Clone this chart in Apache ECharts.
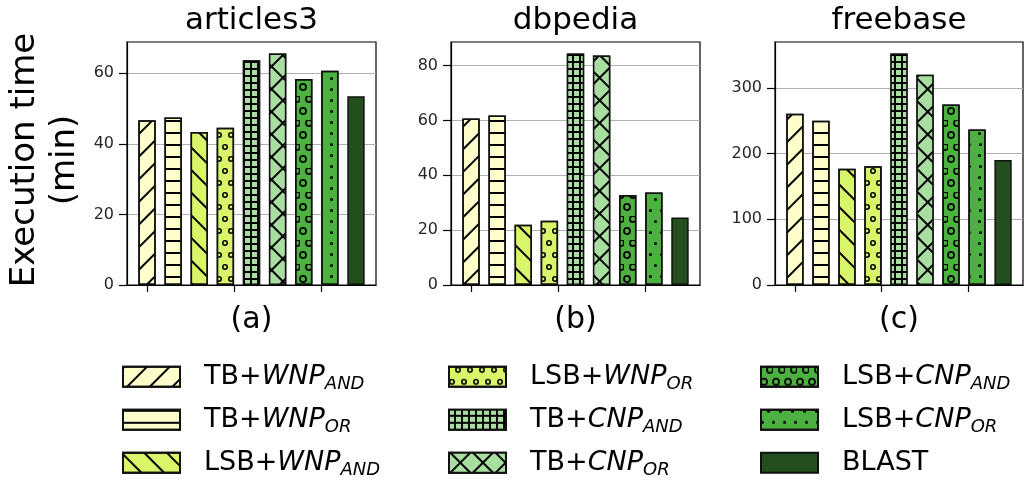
<!DOCTYPE html>
<html><head><meta charset="utf-8">
<script src="https://cdn.jsdelivr.net/npm/echarts@6/dist/echarts.min.js"></script>
<style>html,body{margin:0;padding:0;background:#fff}#c{width:1029px;height:482px}</style>
</head><body><div id="c"></div>
<script>
// ---- data ----
const datasets = ['articles3', 'dbpedia', 'freebase'];
const panelLabels = ['(a)', '(b)', '(c)'];
const methods = ['TB+WNP_AND', 'TB+WNP_OR', 'LSB+WNP_AND', 'LSB+WNP_OR', 'TB+CNP_AND', 'TB+CNP_OR', 'LSB+CNP_AND', 'LSB+CNP_OR', 'BLAST'];
const articles3 = [46.7, 47.5, 43.4, 44.6, 63.7, 65.6, 58.4, 60.7, 53.5];
const dbpedia = [60.7, 61.8, 22.0, 23.4, 84.4, 83.7, 32.8, 33.7, 24.6];
const freebase = [260.3, 249.7, 176.7, 180.8, 352.0, 319.6, 274.6, 236.6, 190.0];
const yTicksA = [0, 20, 40, 60];
const yTicksB = [0, 20, 40, 60, 80];
const yTicksC = [0, 100, 200, 300];
const xPositions = [0, 0.3, 0.6, 0.9, 1.2, 1.5, 1.8, 2.1, 2.4];
const xTicks = [0, 1, 2];

// ---- styles ----
const values = [articles3, dbpedia, freebase];
const yTicks = [yTicksA, yTicksB, yTicksC];
const FONT = 'DejaVu Sans';
const C1 = '#ffffcc', C2 = '#d9f66b', C3 = '#a8dfa0', C4 = '#4cb140', C5 = '#234f1e';
const colors = [C1, C1, C2, C2, C3, C3, C4, C4, C5];
const P = 10.7;
const ringS = 'path://M10,0A10,10,0,1,1,-10,0A10,10,0,1,1,10,0ZM4.8,0A4.8,4.8,0,1,0,-4.8,0A4.8,4.8,0,1,0,4.8,0Z';
const ringL = 'path://M10,0A10,10,0,1,1,-10,0A10,10,0,1,1,10,0ZM5.6,0A5.6,5.6,0,1,0,-5.6,0A5.6,5.6,0,1,0,5.6,0Z';
const decals = [
  {symbol: 'rect', symbolSize: 1, dashArrayX: [1, 0], dashArrayY: [1.6, 13.5], rotation: -Math.PI / 4, color: '#000'},
  {symbol: 'rect', symbolSize: 1, dashArrayX: [1, 0], dashArrayY: [1.6, P - 1.6], rotation: 0, color: '#000'},
  {symbol: 'rect', symbolSize: 1, dashArrayX: [1, 0], dashArrayY: [1.6, 13.5], rotation: Math.PI / 4, color: '#000'},
  {symbol: ringS, symbolSize: 1, dashArrayX: [[5.35, P - 5.35], [0, P / 2, 5.35, P / 2 - 5.35]], dashArrayY: [5.35, P - 5.35], color: '#000'},
  {symbol: 'rect', symbolSize: 1, dashArrayX: [4.2, 1.5], dashArrayY: [4.2, 1.5], color: C3, backgroundColor: '#000'},
  {symbol: 'rect', symbolSize: 1, dashArrayX: [13.5, 1.6], dashArrayY: [13.5, 1.6], rotation: Math.PI / 4, color: C3, backgroundColor: '#000'},
  {symbol: ringL, symbolSize: 1.3, dashArrayX: [[P / 2, P / 2], [0, P / 2, P / 2, 0]], dashArrayY: [P / 2, P / 2], color: '#000'},
  {symbol: 'circle', symbolSize: 1, dashArrayX: [[3, P - 3], [0, P / 2, 3, P / 2 - 3]], dashArrayY: [3, P - 3], color: '#000'},
  null
];

const grids = [{left: 127, width: 249}, {left: 451, width: 249}, {left: 775, width: 248}];
const gridTop = 42, gridBottom = 197;
const xMin = -0.23, xMax = 2.63;

const chart = echarts.init(document.getElementById('c'), null, {renderer: 'canvas'});

const series = [];
for (let g = 0; g < 3; g++) {
  const bw = grids[g].width * 0.2 / (xMax - xMin);
  for (let m = 0; m < methods.length; m++) {
    const itemStyle = {color: colors[m], borderColor: '#111', borderWidth: 1.5};
    if (decals[m]) itemStyle.decal = decals[m];
    series.push({
      type: 'bar', name: methods[m], xAxisIndex: g, yAxisIndex: g,
      data: [[xPositions[m], values[g][m]]],
      barWidth: bw, barGap: '-100%',
      itemStyle: itemStyle,
      emphasis: {disabled: true}, silent: true
    });
  }
}

function legendFmt(name) {
  const parts = name.split('+');
  if (parts.length < 2) return '{a|' + name + '}{s|\u00a0}';
  const sub = parts[1].split('_');
  return '{a|' + parts[0] + '+}{i|' + sub[0] + '}{s|' + sub[1] + '}';
}
const rich = {
  a: {fontSize: 27, fontFamily: FONT, color: '#000', lineHeight: 20, padding: [0, 0, 0, 19]},
  i: {fontSize: 27, fontFamily: FONT, fontStyle: 'italic', color: '#000', lineHeight: 20},
  s: {fontSize: 18, fontFamily: FONT, fontStyle: 'italic', color: '#000', lineHeight: 4, padding: [16, 0, 0, 0]}
};
const legendLefts = [122, 448, 760];
const legends = [0, 1, 2].map(c => ({
  data: methods.slice(c * 3, c * 3 + 3),
  orient: 'vertical', left: legendLefts[c], top: 359.8, height: 200, width: 270, padding: 0,
  itemWidth: 57, itemHeight: 20, itemGap: 9, icon: 'rect',
  selectedMode: false, formatter: legendFmt,
  textStyle: {rich: rich, fontFamily: FONT}
}));

const graphic = [];
datasets.forEach((d, g) => {
  const cx = grids[g].left + grids[g].width / 2;
  graphic.push({type: 'text', x: cx, y: 21, style: {text: d, font: '31px "DejaVu Sans"', fill: '#000', textAlign: 'center', textVerticalAlign: 'middle'}});
  graphic.push({type: 'text', x: cx, y: 320, style: {text: panelLabels[g], font: '30px "DejaVu Sans"', fill: '#000', textAlign: 'center', textVerticalAlign: 'middle'}});
});
graphic.push({type: 'text', x: 45, y: 160, rotation: Math.PI / 2, style: {text: 'Execution time\n(min)', font: '34px "DejaVu Sans"', lineHeight: 40, fill: '#000', textAlign: 'center', textVerticalAlign: 'middle'}});

const option = {
  animation: false,
  backgroundColor: '#fff',
  grid: grids.map(gr => ({left: gr.left, width: gr.width, top: gridTop, bottom: gridBottom, show: true, borderColor: '#000', borderWidth: 1.2, backgroundColor: 'transparent', containLabel: false})),
  xAxis: [0, 1, 2].map(g => ({
    type: 'value', gridIndex: g, min: xMin, max: xMax,
    axisLine: {show: true, onZero: false, lineStyle: {color: '#000', width: 1.2}},
    axisTick: {show: true, customValues: xTicks, length: 7, lineStyle: {color: '#000', width: 1.2}},
    axisLabel: {show: false}, splitLine: {show: false}
  })),
  yAxis: [0, 1, 2].map(g => ({
    type: 'value', gridIndex: g, min: 0,
    max: v => v.max * 1.05,
    interval: yTicks[g][1] - yTicks[g][0],
    axisLine: {show: true, onZero: false, lineStyle: {color: '#000', width: 1.2}},
    axisTick: {show: true, customValues: yTicks[g], length: 8, lineStyle: {color: '#000', width: 1.2}},
    axisLabel: {customValues: yTicks[g], fontSize: 16, fontFamily: FONT, color: '#262626', margin: 13},
    splitLine: {show: true, lineStyle: {color: '#b0b0b0', width: 1}}
  })),
  legend: legends,
  graphic: graphic,
  series: series
};
chart.setOption(option);
</script>
</body></html>
